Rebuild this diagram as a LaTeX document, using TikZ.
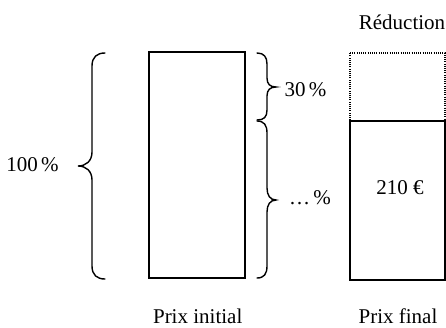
\documentclass[tikz,border=0pt]{standalone}
\usepackage{fontspec}
\setmainfont{Liberation Serif}
\begin{document}
\begin{tikzpicture}[x=1pt,y=-1pt,
  lbl/.style={font=\fontsize{21}{25}\selectfont, inner sep=0pt, anchor=base},
  bar/.style={line width=1.3pt},
  brc/.style={line width=1.4pt, line cap=round}]
\useasboundingbox (0,0) rectangle (446,327);
% rectangles
\draw[bar] (149,52) rectangle (245,278);
\draw[line width=1.1pt, dash pattern=on 0.9pt off 1.3pt] (350,53) -- (445,53) -- (445,120) (350,120) -- (350,53);
\draw[bar] (350,121) rectangle (445,280);
% left brace
\draw[brc] (105,53) .. controls (97,53) and (92,57) .. (92,66) -- (92,152)
  .. controls (92,161) and (86,166) .. (78,166)
  .. controls (86,166) and (92,171) .. (92,180) -- (92,266)
  .. controls (92,275) and (97,279) .. (105,279);
% top right brace
\draw[brc] (257,53) .. controls (264,53) and (267,57) .. (267,64) -- (267,78)
  .. controls (267,84) and (270,87) .. (276,87)
  .. controls (270,87) and (267,90) .. (267,96) -- (267,110)
  .. controls (267,117) and (264,120) .. (257,120);
% bottom right brace
\draw[brc] (257,121) .. controls (264,121) and (267,125) .. (267,133) -- (267,188)
  .. controls (267,195) and (270,200) .. (276,200)
  .. controls (270,200) and (267,205) .. (267,212) -- (267,266)
  .. controls (267,274) and (264,278) .. (257,278);
% labels
\node[lbl] (red) at (402,29) {Réduction};
\node[lbl] (cent) at (32.5,171.5) {100\,\%};
\node[lbl] (trente) at (305.5,96.5) {30\,\%};
\node[lbl] (dots) at (310,204) {…\,\%};
\node[lbl] (prix) at (400,194) {210 €};
\node[lbl] (pinit) at (197.7,323) {Prix initial};
\node[lbl] (pfin) at (398,323) {Prix final};
\end{tikzpicture}
\end{document}
